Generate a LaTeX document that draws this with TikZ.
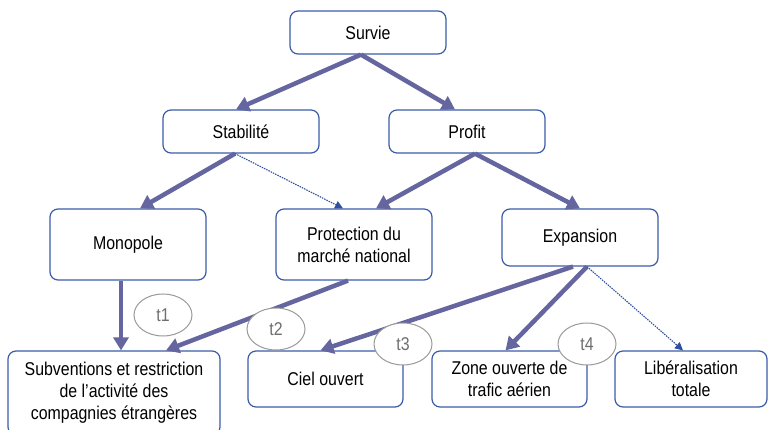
\documentclass[tikz,border=0pt]{standalone}
\usepackage{fontspec}
\setmainfont{Liberation Sans}[FakeStretch=0.86]
\usetikzlibrary{arrows.meta,shapes.geometric}
\definecolor{boxblue}{HTML}{3B5BA9}
\definecolor{arrowpurple}{HTML}{6565A0}
\definecolor{dotblue}{HTML}{2F4F9F}
\definecolor{ellgray}{HTML}{9A9A9A}
\definecolor{txtgray}{HTML}{6E6E6E}
\tikzset{
  box/.style={draw=boxblue, line width=1.2pt, rounded corners=8pt, fill=white,
    align=center, inner sep=2pt, font=\fontsize{18.5}{22}\selectfont, text=black},
  bigarrow/.style={draw=arrowpurple, line width=4.5pt,
    -{Triangle[length=13pt,width=15pt]}, arrowpurple},
  dotarrow/.style={draw=dotblue, line width=1.1pt, dash pattern=on 1.5pt off 1pt,
    -{Triangle[length=8pt,width=8pt]}, dotblue},
  tag/.style={ellipse, draw=ellgray, line width=1pt, fill=white,
    minimum width=58pt, minimum height=42pt, inner sep=0pt,
    font=\fontsize{18.5}{20}\selectfont, text=txtgray}
}
\begin{document}
\begin{tikzpicture}[x=1pt,y=-1pt]
\useasboundingbox (0,0) rectangle (768,430);
% boxes
\node[box, minimum width=156pt, minimum height=43pt] (survie) at (368,32.5) {Survie};
\node[box, minimum width=156pt, minimum height=43pt] (stab) at (241,131.5) {Stabilité};
\node[box, minimum width=156pt, minimum height=43pt] (profit) at (467,131.5) {Profit};
\node[box, minimum width=156pt, minimum height=71pt] (mono) at (128,244.5) {Monopole};
\node[box, minimum width=156pt, minimum height=71pt] (prot) at (354,244.5) {Protection du\\marché national};
\node[box, minimum width=156pt, minimum height=57pt] (exp) at (580,237.5) {Expansion};
\node[box, minimum width=212pt, minimum height=84pt] (sub) at (114,393) {Subventions et restriction\\de l’activité des\\compagnies étrangères};
\node[box, minimum width=155pt, minimum height=56pt] (ciel) at (325.5,379) {Ciel ouvert};
\node[box, minimum width=155pt, minimum height=56pt] (zone) at (509.5,379) {Zone ouverte de\\trafic aérien};
\node[box, minimum width=152pt, minimum height=56pt] (lib) at (691,379) {Libéralisation\\totale};
% arrows
\draw[bigarrow] ([xshift=-7pt]survie.south) -- ([xshift=-5pt]stab.north);
\draw[bigarrow] ([xshift=-7pt]survie.south) -- ([xshift=-12pt]profit.north);
\draw[bigarrow] ([xshift=-6pt]stab.south) -- ([xshift=12pt]mono.north);
\draw[dotarrow] ([xshift=-6pt]stab.south) -- ([xshift=-11pt]prot.north);
\draw[bigarrow] ([xshift=8pt]profit.south) -- ([xshift=22pt]prot.north);
\draw[bigarrow] ([xshift=8pt]profit.south) -- (exp.north);
\draw[bigarrow] ([xshift=-7pt]mono.south) -- ([xshift=7pt]sub.north);
\draw[bigarrow] ([xshift=-6pt]prot.south) -- ([xshift=52pt]sub.north);
\draw[bigarrow] ([xshift=-7pt]exp.south) -- ([xshift=-5pt]ciel.north);
\draw[bigarrow] ([xshift=7pt]exp.south) -- ([xshift=-4pt]zone.north);
\draw[dotarrow] ([xshift=7pt]exp.south) -- ([xshift=-8pt]lib.north);
% tags
\node[tag] (t1) at (163,315) {t1};
\node[tag] (t2) at (276,329) {t2};
\node[tag] (t3) at (403,344) {t3};
\node[tag] (t4) at (587,344) {t4};
\end{tikzpicture}
\end{document}
